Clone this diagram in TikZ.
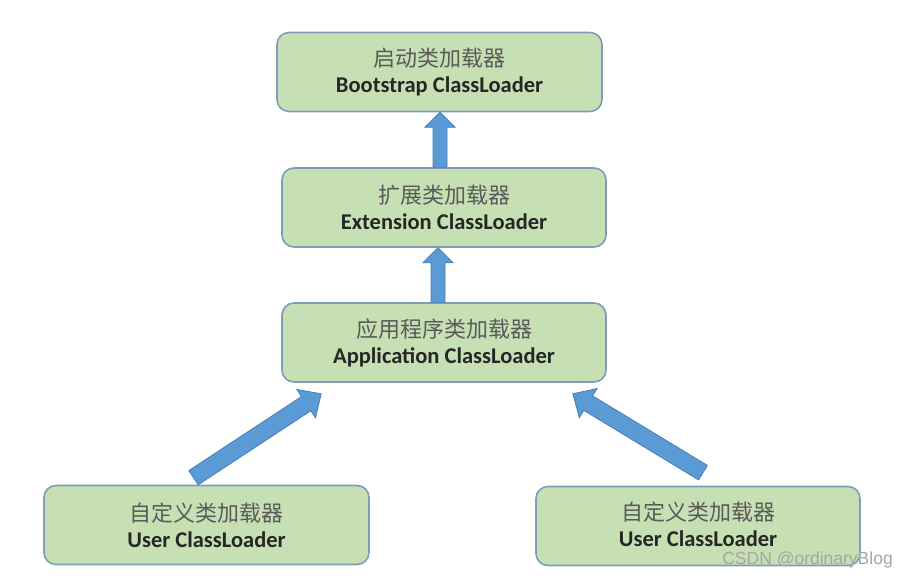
\documentclass[tikz,border=0pt]{standalone}
\usepackage{fontspec}
\setmainfont{Carlito}
\newfontfamily\cjk{Noto Sans CJK SC}
\newfontfamily\wmfont{Liberation Sans}
\usetikzlibrary{calc}
\definecolor{boxfill}{HTML}{C6E0B4}
\definecolor{boxline}{HTML}{7F9DB9}
\definecolor{arrfill}{HTML}{5B9BD5}
\definecolor{arrline}{HTML}{4A7FB5}
\definecolor{cjkgray}{HTML}{5A5A5A}
\definecolor{engdark}{HTML}{262626}
\newcommand\blockarr[5]{%
  \coordinate (hb) at ($(#2)!#5!(#1)$);
  \draw[barrow] ($(#1)!#3!90:(#2)$) -- ($(hb)!#3!90:(#2)$) -- ($(hb)!#4!90:(#2)$) -- (#2)
    -- ($(hb)!#4!-90:(#2)$) -- ($(hb)!#3!-90:(#2)$) -- ($(#1)!#3!-90:(#2)$) -- cycle;}
\newcommand\twolines[2]{{\cjk\fontsize{22}{28}\selectfont\color{cjkgray}#1}\\[-2pt]{\bfseries\color{engdark}#2}}
\begin{document}
\begin{tikzpicture}[x=1pt,y=1pt,
  loader/.style={draw=boxline, line width=1.6pt, fill=boxfill, rounded corners=12pt,
    minimum height=79pt, align=center, inner sep=0pt,
    font=\fontsize{22.5}{28}\selectfont},
  barrow/.style={fill=arrfill, draw=arrline, line width=0.8pt, line join=miter}]
\useasboundingbox (0,0) rectangle (908,577);
\fill[white] (0,0) rectangle (908,577);
\node[loader, minimum width=325pt] (boot) at (439.5,505) {\twolines{启动类加载器}{Bootstrap ClassLoader}};
\node[loader, minimum width=324pt] (ext) at (444,369.5) {\twolines{扩展类加载器}{Extension ClassLoader}};
\node[loader, minimum width=324pt] (app) at (444,234.5) {\twolines{应用程序类加载器}{Application ClassLoader}};
\node[loader, minimum width=325pt] (userl) at (206.5,52) {\twolines{自定义类加载器}{User ClassLoader}};
\node[loader, minimum width=324pt, text height=0pt] (userr) at (698,51) {};
\node[align=center, inner sep=0pt, font=\fontsize{22.5}{28}\selectfont] (userrtext) at (698,53) {\twolines{自定义类加载器}{User ClassLoader}};
% arrow end points
\coordinate (a1s) at ($(ext.north)+(-4,0)$);
\coordinate (a1e) at ($(boot.south)+(0.5,0)$);
\coordinate (a2s) at ($(app.north)+(-6,0)$);
\coordinate (a2e) at ($(ext.south)+(-6,0)$);
\coordinate (a3s) at ($(userl.north)+(-13,7)$);
\coordinate (a3e) at ($(app.south west)+(40,-11)$);
\coordinate (a4s) at ($(userr.north)+(5,13)$);
\coordinate (a4e) at ($(app.south east)+(-34,-11)$);
\blockarr{a1s}{a1e}{7pt}{15pt}{15pt}
\blockarr{a2s}{a2e}{7pt}{15pt}{15pt}
\blockarr{a3s}{a3e}{8.5pt}{17pt}{18pt}
\blockarr{a4s}{a4e}{8.5pt}{17pt}{18pt}
\node[font=\wmfont\fontsize{17.5}{18}\selectfont, text=gray!70, anchor=east, inner sep=0pt] (wm) at (893,17) {CSDN @ordinaryBlog};
\end{tikzpicture}
\end{document}
